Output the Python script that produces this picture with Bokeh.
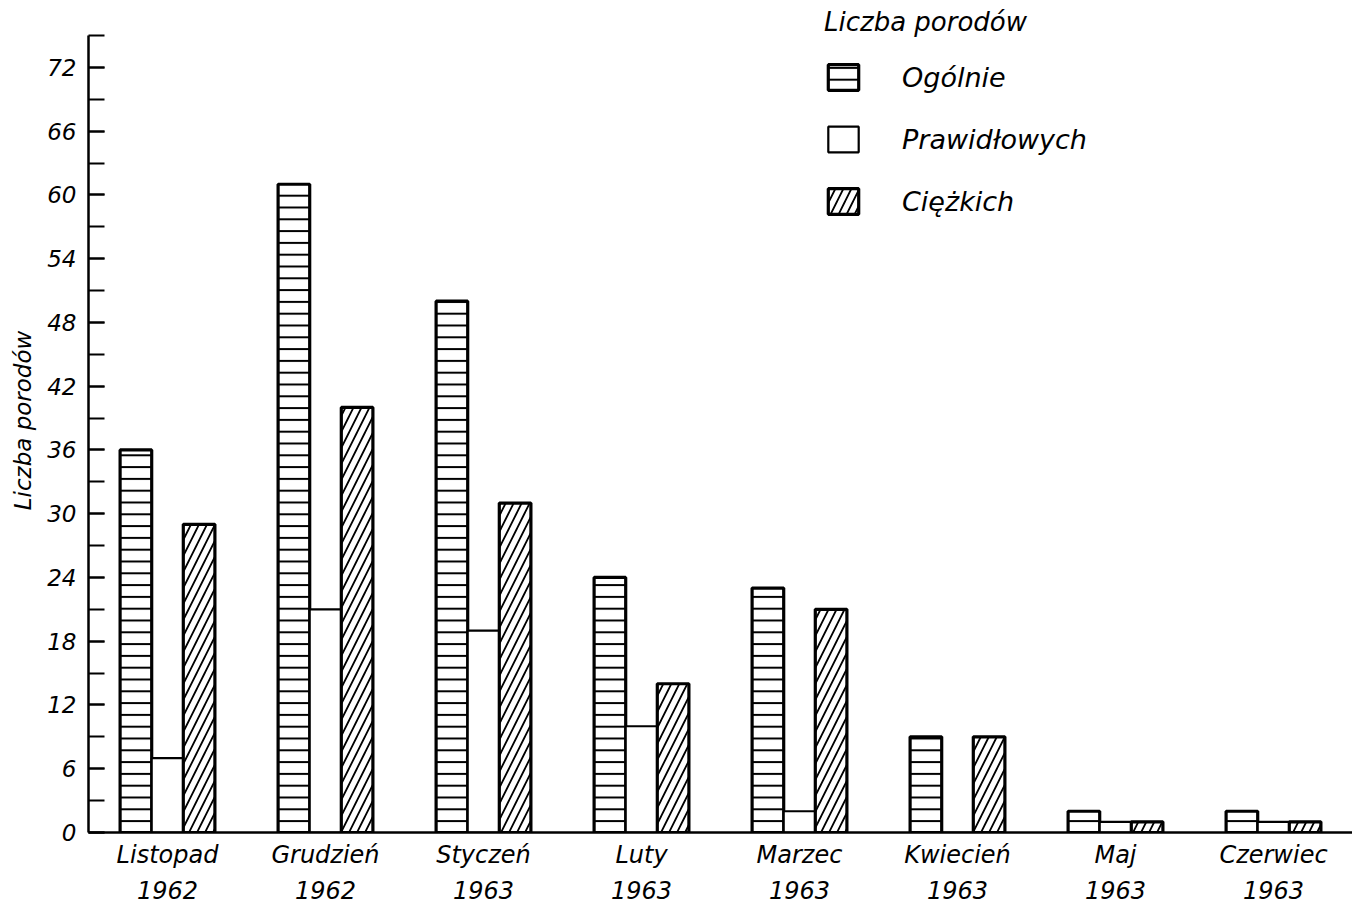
from bokeh.plotting import figure
from bokeh.models import ColumnDataSource, FactorRange, Range1d, SingleIntervalTicker, Legend, LegendItem
from bokeh.transform import dodge
from bokeh.embed import file_html
from bokeh.resources import INLINE

months = ["Listopad\n1962", "Grudzień\n1962", "Styczeń\n1963", "Luty\n1963",
          "Marzec\n1963", "Kwiecień\n1963", "Maj\n1963", "Czerwiec\n1963"]
ogolnie = [36, 61, 50, 24, 23, 9, 2, 2]
prawidlowych = [7, 21, 19, 10, 2, 0, 1, 1]
ciezkich = [29, 40, 31, 14, 21, 9, 1, 1]

src = ColumnDataSource(dict(month=months, og=ogolnie, pr=prawidlowych, ci=ciezkich))

FONT = "DejaVu Sans"

p = figure(x_range=FactorRange(*months, range_padding=0), y_range=Range1d(0, 77.54),
           width=1352, height=912, output_backend="svg", toolbar_location=None,
           min_border_left=88, min_border_right=0, min_border_top=8, min_border_bottom=80)
p.outline_line_color = None
p.grid.visible = False
p.background_fill_color = "white"

w = 0.2
r_og = p.vbar(x=dodge("month", -w, range=p.x_range), top="og", bottom=0, width=w, source=src,
              fill_color="white", line_color="black", line_width=3.2,
              hatch_pattern="horizontal_line", hatch_scale=11.8, hatch_weight=2, hatch_color="black")
r_pr = p.vbar(x=dodge("month", 0, range=p.x_range), top="pr", bottom=0, width=w, source=src,
              fill_color="white", line_color="black", line_width=2.2)
r_ci = p.vbar(x=dodge("month", w, range=p.x_range), top="ci", bottom=0, width=w, source=src,
              fill_color="white", line_color="black", line_width=3.2,
              hatch_pattern="right_diagonal_line", hatch_scale=16, hatch_weight=1.8, hatch_color="black")

# y axis
ya = p.yaxis[0]
ya.ticker = SingleIntervalTicker(interval=6, num_minor_ticks=2)
ya.bounds = (0, 75)
ya.axis_line_width = 2.5
ya.major_tick_in = 16
ya.major_tick_out = 0
ya.minor_tick_in = 16
ya.minor_tick_out = 0
ya.major_tick_line_width = 2
ya.minor_tick_line_width = 2
ya.major_label_standoff = 12
ya.major_label_text_font = FONT
ya.major_label_text_font_style = "italic"
ya.major_label_text_font_size = "23px"
ya.major_label_text_color = "black"
ya.axis_label = "Liczba porodów"
ya.axis_label_text_font = FONT
ya.axis_label_text_font_style = "italic"
ya.axis_label_text_font_size = "23px"
ya.axis_label_text_color = "black"
ya.axis_label_standoff = 8

# x axis
xa = p.xaxis[0]
xa.axis_line_width = 2.5
xa.major_tick_in = 0
xa.major_tick_out = 0
xa.major_label_standoff = 8
xa.major_label_text_font = FONT
xa.major_label_text_font_style = "italic"
xa.major_label_text_font_size = "24px"
xa.major_label_text_color = "black"
xa.major_label_text_line_height = 1.3

legend = Legend(items=[LegendItem(label="Ogólnie", renderers=[r_og]),
                       LegendItem(label="Prawidłowych", renderers=[r_pr]),
                       LegendItem(label="Ciężkich", renderers=[r_ci])],
                title="Liczba porodów", location=(736, 615),
                glyph_width=38, glyph_height=32, spacing=30, label_standoff=40,
                padding=2, margin=0, border_line_color=None, background_fill_alpha=0,
                label_text_font=FONT, label_text_font_style="italic", label_text_font_size="27px",
                label_text_color="black",
                title_text_font=FONT, title_text_font_style="italic", title_text_font_size="26px",
                title_text_color="black", title_standoff=24)
p.add_layout(legend)

open("out.html", "w").write(file_html(p, INLINE))
